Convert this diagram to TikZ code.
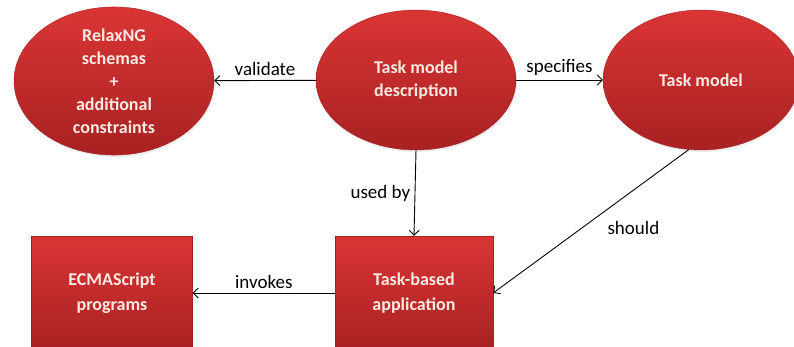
\documentclass[tikz,border=0pt]{standalone}
\usepackage{fontspec}
\setmainfont{Carlito}
\usetikzlibrary{shapes.geometric,arrows.meta,shadows}
\definecolor{rouge}{HTML}{C62A2B}
\definecolor{rougehaut}{HTML}{DA3535}
\definecolor{rougebas}{HTML}{A82122}
\definecolor{texteclair}{HTML}{FBE9E2}
\begin{document}
\begin{tikzpicture}[
    x=1pt, y=-1pt,
    bulle/.style={ellipse, draw=rougebas, top color=rougehaut, bottom color=rougebas,
                  minimum width=200pt, minimum height=140pt, inner sep=0pt,
                  align=center, font=\fontsize{18}{23}\selectfont\bfseries, text=texteclair,
                  drop shadow={opacity=0.15, shadow xshift=1pt, shadow yshift=-2pt}},
    bloc/.style={rectangle, draw=rougebas, top color=rougehaut, bottom color=rougebas,
                 minimum width=161pt, minimum height=114pt, inner sep=0pt,
                 align=center, font=\fontsize{18}{25}\selectfont\bfseries, text=texteclair},
    fleche/.style={-{Straight Barb[length=5pt,width=10pt]}, line width=0.9pt},
    etiquette/.style={font=\fontsize{19}{22}\selectfont, text=black}
]
    \useasboundingbox (0,0) rectangle (794,347);

    \node[bulle] (schemas) at (114,81) {RelaxNG\\schemas\\+\\additional\\constraints};
    \node[bulle] (desc) at (416,80) {Task model\\description};
    \node[bulle, minimum width=196pt] (modele) at (701,80) {Task model};

    \node[bloc] (ecma) at (112,293) {ECMAScript\\programs};
    \node[bloc, minimum width=158pt] (appli) at (414,293) {Task-based\\application};

    \draw[fleche] (desc) -- (schemas) node[midway, above=1pt, etiquette] {validate};
    \draw[fleche] (desc) -- (modele) node[midway, above=1pt, etiquette] {specifies};
    \draw[fleche] (desc.south) -- (appli.north) node[midway, left=1pt, etiquette] {used by};
    \draw[fleche] (modele.-100) -- (appli.east) node[pos=0.45, below right=3pt, etiquette] {should};
    \draw[fleche] (appli) -- (ecma) node[midway, above=1pt, etiquette] {invokes};
\end{tikzpicture}
\end{document}
